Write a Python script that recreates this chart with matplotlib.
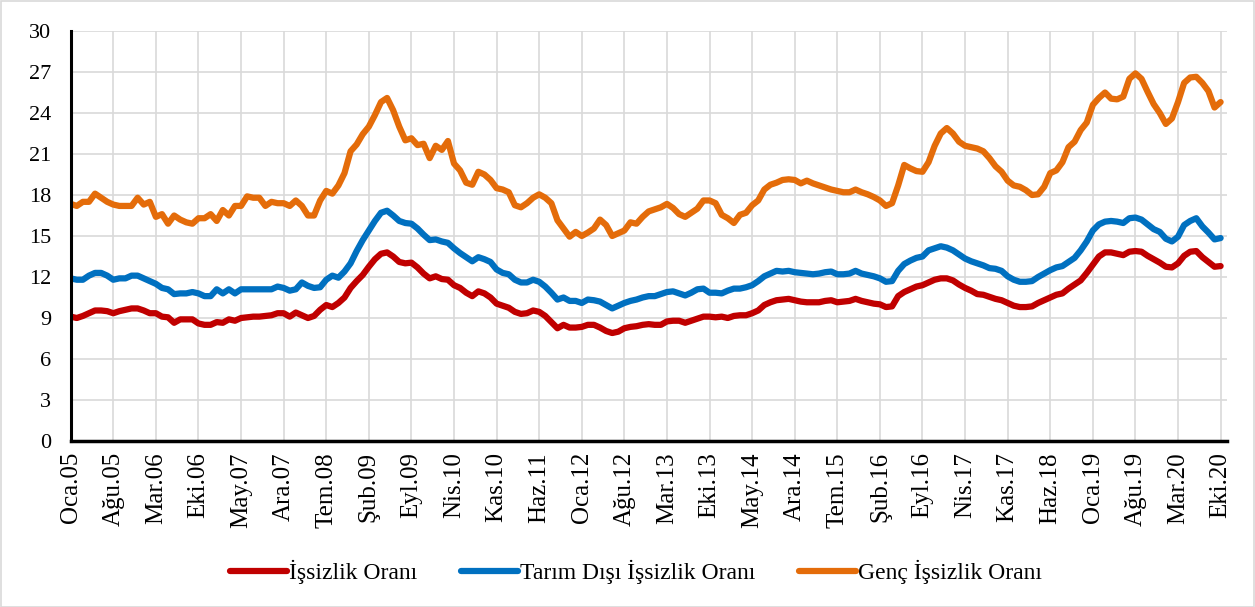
import matplotlib
matplotlib.use('Agg')
import matplotlib.pyplot as plt
from matplotlib.patches import Rectangle

# aylik oranlar, Oca.05 - Eki.20 (%)
issizlik = [
    9.1, 9.0, 9.15, 9.35, 9.55, 9.55, 9.5, 9.35, 9.5, 9.6, 9.7, 9.7,
    9.55, 9.35, 9.35, 9.1, 9.05, 8.65, 8.9, 8.9, 8.9, 8.6, 8.5, 8.5,
    8.7, 8.65, 8.9, 8.8, 9.0, 9.05, 9.1, 9.1, 9.15, 9.2, 9.35, 9.35,
    9.1, 9.4, 9.2, 9.0, 9.15, 9.6, 9.95, 9.8, 10.1, 10.5, 11.2, 11.7,
    12.15, 12.75, 13.3, 13.7, 13.8, 13.5, 13.1, 13.0, 13.05, 12.7, 12.25, 11.9,
    12.05, 11.85, 11.8, 11.4, 11.2, 10.85, 10.6, 10.95, 10.8, 10.5, 10.05, 9.9,
    9.75, 9.45, 9.3, 9.35, 9.55, 9.45, 9.15, 8.7, 8.25, 8.5, 8.3, 8.3,
    8.35, 8.5, 8.5, 8.3, 8.05, 7.9, 8.0, 8.25, 8.35, 8.4, 8.5, 8.55,
    8.5, 8.5, 8.75, 8.8, 8.8, 8.65, 8.8, 8.95, 9.1, 9.1, 9.05, 9.1,
    9.0, 9.15, 9.2, 9.2, 9.35, 9.55, 9.95, 10.15, 10.3, 10.35, 10.4, 10.3,
    10.2, 10.15, 10.15, 10.15, 10.25, 10.3, 10.15, 10.2, 10.25, 10.4, 10.25, 10.15,
    10.05, 10.0, 9.8, 9.85, 10.6, 10.9, 11.1, 11.3, 11.4, 11.6, 11.8, 11.9,
    11.9, 11.75, 11.45, 11.2, 11.0, 10.75, 10.7, 10.55, 10.4, 10.3, 10.1, 9.9,
    9.8, 9.8, 9.85, 10.1, 10.3, 10.5, 10.7, 10.8, 11.15, 11.45, 11.75, 12.3,
    12.9, 13.5, 13.8, 13.8, 13.7, 13.6, 13.85, 13.9, 13.85, 13.55, 13.3, 13.05,
    12.75, 12.7, 13.0, 13.55, 13.85, 13.9, 13.45, 13.1, 12.75, 12.8,
]

tarim_disi = [
    11.9, 11.8, 11.8, 12.1, 12.3, 12.3, 12.1, 11.8, 11.9, 11.9, 12.1, 12.1,
    11.9, 11.7, 11.5, 11.2, 11.1, 10.75, 10.8, 10.8, 10.9, 10.8, 10.6, 10.6,
    11.1, 10.8, 11.1, 10.8, 11.1, 11.1, 11.1, 11.1, 11.1, 11.1, 11.3, 11.2,
    11.0, 11.1, 11.6, 11.35, 11.2, 11.25, 11.8, 12.1, 11.95, 12.4, 13.0, 13.9,
    14.7, 15.4, 16.1, 16.7, 16.85, 16.5, 16.1, 15.95, 15.9, 15.55, 15.1, 14.7,
    14.75, 14.6, 14.5, 14.1, 13.75, 13.45, 13.15, 13.45, 13.3, 13.1, 12.55, 12.3,
    12.2, 11.8, 11.6, 11.6, 11.8, 11.65, 11.3, 10.85, 10.35, 10.5, 10.25, 10.25,
    10.1, 10.35, 10.3, 10.2, 9.95, 9.7, 9.9, 10.1, 10.25, 10.35, 10.5, 10.6,
    10.6, 10.75, 10.9, 10.95, 10.8, 10.65, 10.85, 11.1, 11.15, 10.85, 10.85, 10.8,
    11.0, 11.15, 11.15, 11.25, 11.4, 11.7, 12.05, 12.25, 12.45, 12.4, 12.45, 12.35,
    12.3, 12.25, 12.2, 12.25, 12.35, 12.4, 12.2, 12.2, 12.25, 12.45, 12.25, 12.15,
    12.05, 11.9, 11.65, 11.7, 12.45, 12.95, 13.2, 13.4, 13.5, 13.95, 14.1, 14.25,
    14.15, 13.95, 13.65, 13.35, 13.15, 13.0, 12.85, 12.65, 12.6, 12.45, 12.05, 11.8,
    11.65, 11.65, 11.7, 12.0, 12.25, 12.5, 12.7, 12.8, 13.1, 13.4, 13.95, 14.6,
    15.4, 15.85, 16.05, 16.1, 16.05, 15.95, 16.3, 16.35, 16.2, 15.85, 15.5, 15.3,
    14.8, 14.6, 14.95, 15.8, 16.1, 16.3, 15.7, 15.25, 14.75, 14.85,
]

genc = [
    17.35, 17.2, 17.5, 17.5, 18.1, 17.8, 17.5, 17.3, 17.2, 17.2, 17.2, 17.8,
    17.3, 17.5, 16.4, 16.6, 15.9, 16.5, 16.2, 16.0, 15.9, 16.3, 16.3, 16.6,
    16.1, 16.9, 16.5, 17.2, 17.2, 17.9, 17.8, 17.8, 17.2, 17.5, 17.4, 17.4,
    17.2, 17.6, 17.2, 16.5, 16.5, 17.6, 18.3, 18.1, 18.7, 19.6, 21.2, 21.7,
    22.45, 23.0, 23.85, 24.8, 25.1, 24.2, 23.0, 22.0, 22.15, 21.65, 21.75, 20.7,
    21.6, 21.3, 21.95, 20.3, 19.8, 18.9, 18.75, 19.7, 19.5, 19.1, 18.5, 18.4,
    18.2, 17.25, 17.1, 17.4, 17.8, 18.05, 17.8, 17.4, 16.15, 15.55, 14.95, 15.3,
    15.0, 15.25, 15.55, 16.2, 15.8, 15.0, 15.2, 15.4, 16.0, 15.9, 16.4, 16.8,
    16.95, 17.1, 17.35, 17.05, 16.6, 16.4, 16.7, 17.0, 17.6, 17.6, 17.4, 16.55,
    16.3, 15.95, 16.55, 16.7, 17.25, 17.6, 18.4, 18.75, 18.9, 19.1, 19.15, 19.1,
    18.85, 19.05, 18.85, 18.7, 18.55, 18.4, 18.3, 18.2, 18.2, 18.4, 18.2, 18.05,
    17.85, 17.6, 17.2, 17.4, 18.7, 20.2, 19.95, 19.75, 19.7, 20.4, 21.6, 22.5,
    22.9, 22.5, 21.9, 21.6, 21.5, 21.4, 21.2, 20.7, 20.1, 19.7, 19.05, 18.7,
    18.6, 18.35, 18.0, 18.05, 18.6, 19.6, 19.8, 20.4, 21.5, 21.9, 22.75, 23.3,
    24.6, 25.1, 25.5, 25.05, 25.0, 25.2, 26.5, 26.9, 26.5, 25.55, 24.65, 24.0,
    23.2, 23.6, 24.8, 26.2, 26.6, 26.65, 26.2, 25.6, 24.4, 24.8,
]

tick_labels = ['Oca.05', 'Ağu.05', 'Mar.06', 'Eki.06', 'May.07', 'Ara.07', 'Tem.08',
               'Şub.09', 'Eyl.09', 'Nis.10', 'Kas.10', 'Haz.11', 'Oca.12', 'Ağu.12',
               'Mar.13', 'Eki.13', 'May.14', 'Ara.14', 'Tem.15', 'Şub.16', 'Eyl.16',
               'Nis.17', 'Kas.17', 'Haz.18', 'Oca.19', 'Ağu.19', 'Mar.20', 'Eki.20']

plt.rcParams['font.family'] = ['Liberation Serif', 'DejaVu Serif']

W, H = 1255, 607
fig = plt.figure(figsize=(W / 100, H / 100), dpi=100)
ax = fig.add_axes([70.7 / W, 1 - 441 / H, (1226.7 - 70.7) / W, 410 / H])

x = list(range(len(issizlik)))
ax.plot(x, issizlik, color='#C00000', lw=4.5, solid_capstyle='round',
        solid_joinstyle='round', label='İşsizlik Oranı')
ax.plot(x, tarim_disi, color='#0070C0', lw=4.5, solid_capstyle='round',
        solid_joinstyle='round', label='Tarım Dışı İşsizlik Oranı')
ax.plot(x, genc, color='#E46C0A', lw=4.5, solid_capstyle='round',
        solid_joinstyle='round', label='Genç İşsizlik Oranı')

ax.set_xlim(0, 190)
ax.set_ylim(0, 30)
ax.set_yticks(range(0, 31, 3))
ax.set_xticks(range(0, len(issizlik), 7))
ax.set_xticklabels(tick_labels, rotation=90)

ax.grid(color='#D9D9D9', lw=1.2)
ax.set_axisbelow(True)
for s in ['top', 'right']:
    ax.spines[s].set_visible(False)
ax.spines['left'].set_linewidth(2.2)
ax.spines['bottom'].set_linewidth(2.5)
ax.tick_params(axis='y', length=0, labelsize=16, pad=14)
ax.tick_params(axis='x', length=0, labelsize=18, pad=8)

fig.legend(loc='center', bbox_to_anchor=(636 / W, 1 - 572 / H), ncol=3,
           frameon=False, fontsize=17, handlelength=2.4, handletextpad=0.1,
           columnspacing=1.85)

fig.patches.append(Rectangle((0.5 / W, 0.5 / H), 1 - 1.5 / W, 1 - 1.5 / H,
                             transform=fig.transFigure, fill=False,
                             ec='#D9D9D9', lw=1.2))

fig.savefig('out.png', dpi=100)
